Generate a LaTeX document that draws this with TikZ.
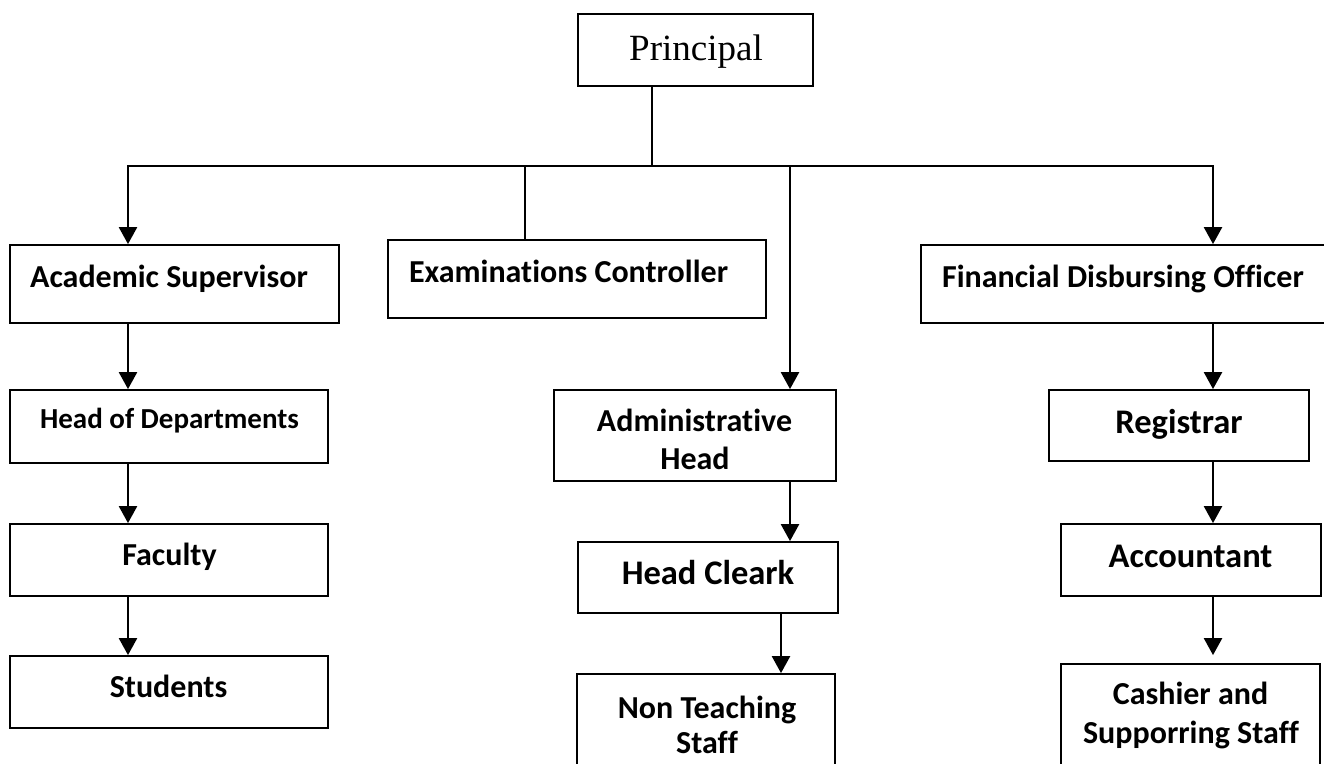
\documentclass[tikz,border=0pt]{standalone}
\usepackage{fontspec}
\setmainfont{Liberation Serif}
\newfontfamily\calfont{Carlito}[Ligatures=NoCommon]
\usetikzlibrary{arrows.meta}
\tikzset{
  box/.style={draw, line width=1.8pt, inner sep=0pt},
  lbl/.style={font=\calfont\bfseries\fontsize{32}{38}\selectfont, inner sep=0pt, anchor=base},
  lblbig/.style={font=\calfont\bfseries\fontsize{34.5}{40}\selectfont, inner sep=0pt, anchor=base},
  lblsmall/.style={font=\calfont\bfseries\fontsize{29}{35}\selectfont, inner sep=0pt, anchor=base},
  ln/.style={line width=2.4pt},
  arr/.style={line width=2.4pt, -{Triangle[width=18pt,length=17pt]}},
}
\begin{document}
\begin{tikzpicture}[x=1pt,y=-1pt]
\clip (0,0) rectangle (1324,763);
\fill[white] (0,0) rectangle (1324,763);
% boxes
\node[box, minimum width=235pt, minimum height=72pt] (p) at (695.5,50) {};
\node[box, minimum width=329pt, minimum height=78pt] (as) at (174.5,284) {};
\node[box, minimum width=378pt, minimum height=78pt] (ec) at (577,279) {};
\node[box, minimum width=409pt, minimum height=78pt] (fdo) at (1125.5,284) {};
\node[box, minimum width=318pt, minimum height=73pt] (hod) at (169,426.5) {};
\node[box, minimum width=318pt, minimum height=72pt] (fac) at (169,560) {};
\node[box, minimum width=318pt, minimum height=72pt] (stu) at (169,692) {};
\node[box, minimum width=282pt, minimum height=91pt] (adm) at (695,435.5) {};
\node[box, minimum width=260pt, minimum height=71pt] (hc) at (708,577.5) {};
\node[box, minimum width=258pt, minimum height=126pt] (nts) at (706,737) {};
\node[box, minimum width=260pt, minimum height=71pt] (reg) at (1179,425.5) {};
\node[box, minimum width=260pt, minimum height=72pt] (acc) at (1191,560) {};
\node[box, minimum width=259pt, minimum height=136pt] (cas) at (1190.5,732) {};
% texts
\node[font=\fontsize{37}{44}\selectfont, inner sep=0pt, anchor=base] (tp) at (696,60) {Principal};
\node[lbl] (tas) at (169,287) {Academic Supervisor};
\node[lbl] (tec) at (568.5,282) {Examinations Controller};
\node[lbl] (tfdo) at (1123,287) {Financial Disbursing Officer};
\node[lblsmall] (thod) at (169.5,428) {Head of Departments};
\node[lbl] (tfac) at (169.5,565) {Faculty};
\node[lbl] (tstu) at (168.5,697) {Students};
\node[lbl] (tadm1) at (694.5,431) {Administrative};
\node[lbl] (tadm2) at (695,469) {Head};
\node[lblbig] (thc) at (708,584) {Head Cleark};
\node[lbl] (tnts1) at (707,718) {Non Teaching};
\node[lbl] (tnts2) at (707,753) {Staff};
\node[lblbig] (treg) at (1179,433) {Registrar};
\node[lblbig] (tacc) at (1190.5,567) {Accountant};
\node[lbl] (tcas1) at (1190.5,704) {Cashier and};
\node[lbl] (tcas2) at (1191,743) {Supporring Staff};
% trunk coordinates
\coordinate (tL) at (128,166);
\coordinate (tE) at (525,166);
\coordinate (tP) at (652,166);
\coordinate (tA) at (790,166);
\coordinate (tR) at (1213,166);
\coordinate (cN) at (781,640);
% connectors
\draw[ln] (p.south -| tP) -- (tP);
\draw[ln, line cap=rect] (tL) -- (tR);
\draw[arr] (tL) -- (tL |- as.north);
\draw[ln] (tE) -- (tE |- ec.north);
\draw[arr] (tA) -- (tA |- adm.north);
\draw[arr] (tR) -- (tR |- fdo.north);
\draw[arr] (as.south -| tL) -- (hod.north -| tL);
\draw[arr] (hod.south -| tL) -- (fac.north -| tL);
\draw[arr] (fac.south -| tL) -- (stu.north -| tL);
\draw[arr] (adm.south -| tA) -- (hc.north -| tA);
\draw[arr] (hc.south -| cN) -- (nts.north -| cN);
\draw[arr] (fdo.south -| tR) -- (reg.north -| tR);
\draw[arr] (reg.south -| tR) -- (acc.north -| tR);
\draw[arr, shorten >=8pt] (acc.south -| tR) -- (cas.north -| tR);
\end{tikzpicture}
\end{document}
